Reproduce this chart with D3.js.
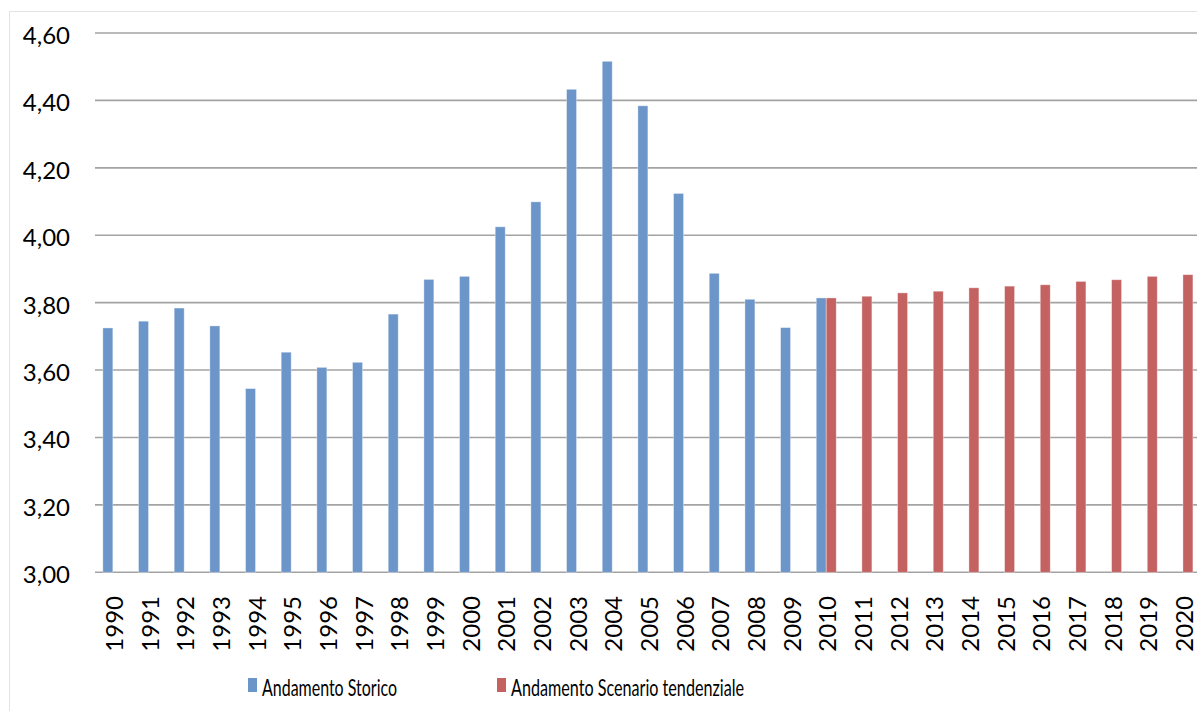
<!DOCTYPE html>
<html>
<head>
<meta charset="utf-8">
<script src="https://cdn.jsdelivr.net/npm/d3@7"></script>
<style>
  html, body { margin: 0; padding: 0; background: #fff; }
  svg { display: block; }
  text { font-family: Lato, "Open Sans", sans-serif; fill: #000; }
</style>
</head>
<body>
<svg id="chart" width="1197" height="711"></svg>
<script>
// Years on the category axis
const years = d3.range(1990, 2021).map(String);

// Historical trend, 1990–2010
const storicoYears = d3.range(1990, 2011).map(String);
const storicoValues = [3.725, 3.745, 3.784, 3.731, 3.545, 3.653, 3.608, 3.623, 3.766, 3.869,
                       3.878, 4.025, 4.099, 4.433, 4.516, 4.384, 4.124, 3.887, 3.810, 3.726, 3.814];

// Baseline scenario projection, 2010–2020
const scenarioYears = d3.range(2010, 2021).map(String);
const scenarioValues = [3.814, 3.819, 3.829, 3.834, 3.844, 3.849, 3.853, 3.863, 3.868, 3.878, 3.883];

// Value-axis ticks
const yTicks = [3.0, 3.2, 3.4, 3.6, 3.8, 4.0, 4.2, 4.4, 4.6];

const seriesNames = ["Andamento Storico", "Andamento Scenario tendenziale"];
const seriesColors = ["#6c95c9", "#c46262"];

const svg = d3.select("#chart");

// Outer frame of the chart area
svg.append("line").attr("x1", 9.5).attr("x2", 1197).attr("y1", 11.5).attr("y2", 11.5)
  .attr("stroke", "#e3e3e3").attr("stroke-width", 1);
svg.append("line").attr("x1", 9.5).attr("x2", 9.5).attr("y1", 11.5).attr("y2", 711)
  .attr("stroke", "#e3e3e3").attr("stroke-width", 1);

const step = 35.67;
const x0 = d3.scaleBand().domain(years)
  .range([95, 95 + step * years.length])
  .paddingInner(0.44).paddingOuter(0.22);
const x1 = d3.scaleBand().domain(seriesNames).range([0, x0.bandwidth()]);
const y = d3.scaleLinear().domain([3.0, 4.6]).range([572.3, 33]);

const fmt = v => d3.format(".2f")(v).replace(".", ",");

// Horizontal gridlines (the 3,00 line doubles as the category axis)
svg.append("g").selectAll("line").data(yTicks).join("line")
  .attr("x1", 95).attr("x2", 1197)
  .attr("y1", d => y(d)).attr("y2", d => y(d))
  .attr("stroke", "#a3a3a3").attr("stroke-width", 1.6);

// Value labels
svg.append("g").selectAll("text").data(yTicks).join("text")
  .attr("x", 70).attr("y", d => y(d) + 11)
  .attr("text-anchor", "end")
  .style("font-size", "24px")
  .text(fmt);

// Bars
const series = [
  { name: seriesNames[0], color: seriesColors[0], data: storicoYears.map((yr, i) => ({ yr, v: storicoValues[i] })) },
  { name: seriesNames[1], color: seriesColors[1], data: scenarioYears.map((yr, i) => ({ yr, v: scenarioValues[i] })) }
];

series.forEach(s => {
  svg.append("g").selectAll("rect").data(s.data).join("rect")
    .attr("x", d => x0(d.yr) + x1(s.name))
    .attr("width", x1.bandwidth())
    .attr("y", d => y(d.v))
    .attr("height", d => y(3.0) - y(d.v))
    .attr("fill", s.color)
    .attr("stroke", "rgba(255,255,255,0.45)")
    .attr("stroke-width", 0.8);
});

// Year labels, rotated
svg.append("g").selectAll("text").data(years).join("text")
  .attr("transform", d => `translate(${x0(d) + x0.bandwidth() / 2 + 10},596) rotate(-90)`)
  .attr("text-anchor", "end")
  .style("font-size", "24px")
  .text(d => d);

// Legend
const legend = [
  { name: seriesNames[0], color: seriesColors[0], x: 248, w: 135 },
  { name: seriesNames[1], color: seriesColors[1], x: 497, w: 233 }
];
const lg = svg.append("g").selectAll("g").data(legend).join("g");
lg.append("rect")
  .attr("x", d => d.x).attr("y", 678).attr("width", 9).attr("height", 14)
  .attr("fill", d => d.color);
lg.append("text")
  .attr("x", d => d.x + 14).attr("y", 696)
  .attr("textLength", d => d.w).attr("lengthAdjust", "spacingAndGlyphs")
  .style("font-size", "23px")
  .text(d => d.name);
</script>
</body>
</html>
